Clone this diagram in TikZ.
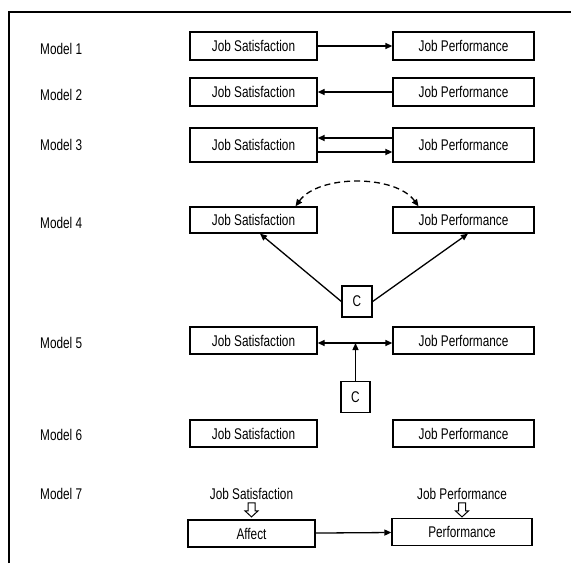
\documentclass[tikz,border=0pt]{standalone}
\usepackage{fontspec}
\setmainfont{Liberation Sans}[FakeStretch=0.76]
\usetikzlibrary{positioning,arrows.meta}

\begin{document}
\begin{tikzpicture}[
  x=1pt, y=-1pt,
  font=\fontsize{15.5pt}{18pt}\selectfont,
  model/.style={anchor=west, inner sep=0pt},
  box/.style={rectangle, draw, line width=1.3pt, minimum height=27pt, inner sep=2pt},
  jsbox/.style={box, minimum width=127pt},
  jpbox/.style={box, minimum width=141pt},
  cbox/.style={box, minimum width=30pt, minimum height=31pt},
  link/.style={-{Triangle[length=7pt,width=6pt]}, line width=1.3pt},
  twoway/.style={{Triangle[length=7pt,width=6pt]}-{Triangle[length=7pt,width=6pt]}, line width=1.3pt},
  hollowdown/.pic={\draw[line width=1pt] (-3.5,0) -- (-3.5,8) -- (-6.5,8) -- (0,14) -- (6.5,8) -- (3.5,8) -- (3.5,0) -- cycle;}
]
\useasboundingbox (0,0) rectangle (571,563);

% frame
\draw[line width=2.5pt] (9,563) -- (9,12) -- (571,12);

% Model 1
\node[model] (m1) at (40,49) {Model 1};
\node[jsbox, minimum height=28pt] (js1) at (253.5,46) {Job Satisfaction};
\node[jpbox, minimum height=28pt] (jp1) at (463.5,46) {Job Performance};
\draw[link] (js1) -- (jp1);

% Model 2
\node[model] (m2) at (40,95) {Model 2};
\node[jsbox, minimum height=28pt] (js2) at (253.5,92) {Job Satisfaction};
\node[jpbox, minimum height=28pt] (jp2) at (463.5,92) {Job Performance};
\draw[link] (jp2) -- (js2);

% Model 3
\node[model] (m3) at (40,145) {Model 3};
\node[jsbox, minimum height=34pt] (js3) at (253.5,145) {Job Satisfaction};
\node[jpbox, minimum height=34pt] (jp3) at (463.5,145) {Job Performance};
\draw[link, line width=1.6pt] ([yshift=7pt]jp3.west) -- ([yshift=7pt]js3.east);
\draw[link, line width=1.6pt] ([yshift=-7pt]js3.east) -- ([yshift=-7pt]jp3.west);

% Model 4
\node[model] (m4) at (40,223) {Model 4};
\node[jsbox, minimum height=26pt] (js4) at (253.5,220) {Job Satisfaction};
\node[jpbox, minimum height=26pt] (jp4) at (463.5,220) {Job Performance};
\node[cbox] (c4) at (357,301.5) {C};
\draw[twoway, dash pattern=on 6pt off 4pt] ([xshift=42pt]js4.north) .. controls +(23,-32) and +(-23,-32) .. ([xshift=-45pt]jp4.north);
\draw[link] (c4.west) -- ([xshift=6.5pt]js4.south);
\draw[link] (c4.east) -- ([xshift=4.5pt]jp4.south);

% Model 5
\node[model] (m5) at (40,343) {Model 5};
\node[jsbox] (js5) at (253.5,340.5) {Job Satisfaction};
\node[jpbox] (jp5) at (463.5,340.5) {Job Performance};
\node[cbox, minimum width=29pt] (c5) at (355.5,397) {C};
\coordinate (j5) at ([yshift=-2.5pt]jp5.west);
\draw[twoway] (js5.east |- j5) -- (j5);
\draw[link] (c5.north) -- (c5.north |- j5);

% Model 6
\node[model] (m6) at (40,435) {Model 6};
\node[jsbox] (js6) at (253.5,433.5) {Job Satisfaction};
\node[jpbox] (jp6) at (463.5,433.5) {Job Performance};

% Model 7
\node[model] (m7) at (40,494) {Model 7};
\node[inner sep=0pt] (jst7) at (251.5,494) {Job Satisfaction};
\node[inner sep=0pt] (jpt7) at (462,494) {Job Performance};
\node[jsbox] (af7) at (251.5,533.5) {Affect};
\node[jpbox, minimum width=140pt] (pf7) at (462,532) {Performance};
\pic at ([yshift=-3pt]jst7.south) {hollowdown};
\pic at ([yshift=-3pt]jpt7.south) {hollowdown};
\draw[link] (af7) -- (pf7);

\end{tikzpicture}
\end{document}
